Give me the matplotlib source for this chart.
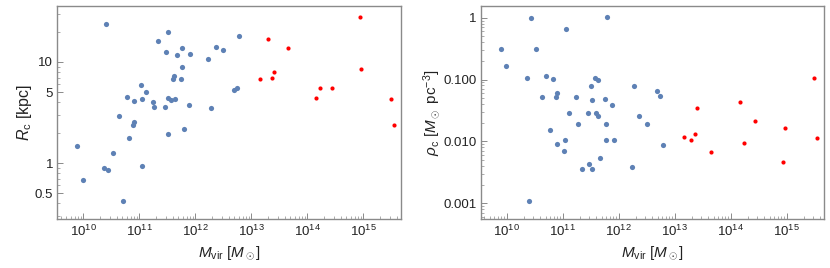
import numpy as np
import matplotlib
matplotlib.use("Agg")
import matplotlib.pyplot as plt
from matplotlib.ticker import FixedLocator, NullFormatter, FixedFormatter

plt.rcParams["font.family"] = ["Liberation Sans", "DejaVu Sans"]
plt.rcParams["mathtext.fontset"] = "custom"
plt.rcParams["mathtext.rm"] = "Liberation Sans"
plt.rcParams["mathtext.it"] = "Liberation Sans:italic"

# low-mass halos (blue)
m_blue = [7.8e9, 9.9e9, 2.34e10, 2.51e10, 2.73e10, 3.39e10, 4.34e10, 5.12e10, 6.03e10, 6.62e10,
          7.62e10, 7.94e10, 7.94e10, 1.07e11, 1.12e11, 1.13e11, 1.30e11, 1.73e11, 1.85e11, 2.18e11,
          2.88e11, 3.0e11, 3.25e11, 3.29e11, 3.29e11, 3.73e11, 4.0e11, 4.29e11, 4.22e11, 4.71e11,
          5.67e11, 5.86e11, 5.91e11, 6.28e11, 7.62e11, 8.1e11, 1.71e12, 1.88e12, 2.34e12, 3.15e12,
          4.91e12, 5.48e12, 6.08e12]
r_blue = [1.46, 0.684, 0.887, 23.8, 0.847, 1.25, 2.89, 0.423, 4.55, 1.76,
          2.36, 2.53, 4.14, 5.88, 4.33, 0.933, 5.05, 4.02, 3.58, 16.3,
          3.57, 12.6, 1.95, 4.41, 19.7, 4.21, 6.83, 4.33, 7.26, 11.7,
          6.83, 9.02, 13.8, 2.16, 3.79, 12.1, 10.8, 3.54, 14.0, 13.1,
          5.31, 5.57, 18.2]
rho_blue = [0.308, 0.167, 0.107, 0.00109, 0.99, 0.308, 0.0515, 0.115, 0.0154, 0.1007,
            0.0521, 0.0598, 0.00894, 0.00697, 0.0104, 0.649, 0.0287, 0.0521, 0.0188, 0.00356,
            0.0287, 0.0043, 0.0794, 0.0466, 0.00356, 0.107, 0.029, 0.098, 0.0257, 0.00537,
            0.0484, 0.0188, 0.0105, 1.015, 0.0391, 0.0105, 0.00388, 0.0785, 0.0254, 0.0191,
            0.0652, 0.0547, 0.0088]

# clusters (red)
m_red = [1.45e13, 1.96e13, 2.31e13, 2.51e13, 4.52e13, 1.45e14, 1.71e14, 2.73e14,
         8.63e14, 9.21e14, 3.08e15, 3.53e15]
r_red = [6.79, 17.0, 6.95, 8.02, 13.6, 4.44, 5.53, 5.57, 27.9, 8.53, 4.33, 2.38]
rho_red = [0.01174, 0.0104, 0.0131, 0.035, 0.00671, 0.0437, 0.00929, 0.0211,
           0.00457, 0.0162, 0.1046, 0.0112]

m_ticks = [1e10, 1e11, 1e12, 1e13, 1e14, 1e15]
m_labels = [r"$10^{10}$", r"$10^{11}$", r"$10^{12}$", r"$10^{13}$", r"$10^{14}$", r"$10^{15}$"]
r_ticks = [0.5, 1, 5, 10]
r_labels = ["0.5", "1", "5", "10"]
rho_ticks = [0.001, 0.01, 0.1, 1]
rho_labels = ["0.001", "0.010", "0.100", "1"]

blue = "#5e81b5"
red = "#ff0000"
frame = "#8a8a8a"
txt = "#222222"


def minor_log(lo, hi):
    out = []
    for e in range(int(np.floor(np.log10(lo))), int(np.ceil(np.log10(hi))) + 1):
        for k in range(2, 10):
            v = k * 10.0**e
            if lo < v < hi:
                out.append(v)
    return out


xlim = (10**9.536, 10**15.673)
fig = plt.figure(figsize=(8.3, 2.68), dpi=100)
ax1 = fig.add_axes([0.0690, 0.1817, 0.4141, 0.7948])
ax2 = fig.add_axes([0.5792, 0.1817, 0.4141, 0.7948])

for ax, yb, yr in [(ax1, r_blue, r_red), (ax2, rho_blue, rho_red)]:
    ax.scatter(m_blue, yb, s=14, color=blue, linewidths=0, zorder=3)
    ax.scatter(m_red, yr, s=9, color=red, linewidths=0, zorder=3)
    ax.set_xscale("log")
    ax.set_yscale("log")
    ax.set_xlim(*xlim)
    ax.xaxis.set_major_locator(FixedLocator(m_ticks))
    ax.xaxis.set_major_formatter(FixedFormatter(m_labels))
    ax.xaxis.set_minor_locator(FixedLocator(minor_log(*xlim)))
    ax.xaxis.set_minor_formatter(NullFormatter())
    for s in ax.spines.values():
        s.set_color(frame)
        s.set_linewidth(1.0)
    ax.tick_params(which="both", direction="in", top=False, right=False, color=frame,
                   labelsize=9.5, pad=3, labelcolor=txt)
    ax.tick_params(which="major", length=4.5, width=0.7)
    ax.tick_params(which="minor", length=2.2, width=0.5)
    ax.set_xlabel(r"$M_{\rm vir}$ [$M_\odot$]", fontsize=11, labelpad=4, color=txt)

ylim1 = (10**-0.557, 10**1.551)
ax1.set_ylim(*ylim1)
ax1.yaxis.set_major_locator(FixedLocator(r_ticks))
ax1.yaxis.set_major_formatter(FixedFormatter(r_labels))
ax1.yaxis.set_minor_locator(FixedLocator(minor_log(*ylim1)))
ax1.yaxis.set_minor_formatter(NullFormatter())
ax1.set_ylabel(r"$R_{\rm c}$ [kpc]", fontsize=11.5, color=txt)
ax1.yaxis.set_label_coords(-0.068, 0.5)

ylim2 = (10**-3.262, 10**0.1845)
ax2.set_ylim(*ylim2)
ax2.yaxis.set_major_locator(FixedLocator(rho_ticks))
ax2.yaxis.set_major_formatter(FixedFormatter(rho_labels))
ax2.yaxis.set_minor_locator(FixedLocator(minor_log(*ylim2)))
ax2.yaxis.set_minor_formatter(NullFormatter())
ax2.set_ylabel(r"$\rho_{\rm c}$ [$M_\odot$ pc$^{-3}$]", fontsize=11, color=txt)
ax2.yaxis.set_label_coords(-0.112, 0.5)

fig.savefig("out.png", dpi=100)
